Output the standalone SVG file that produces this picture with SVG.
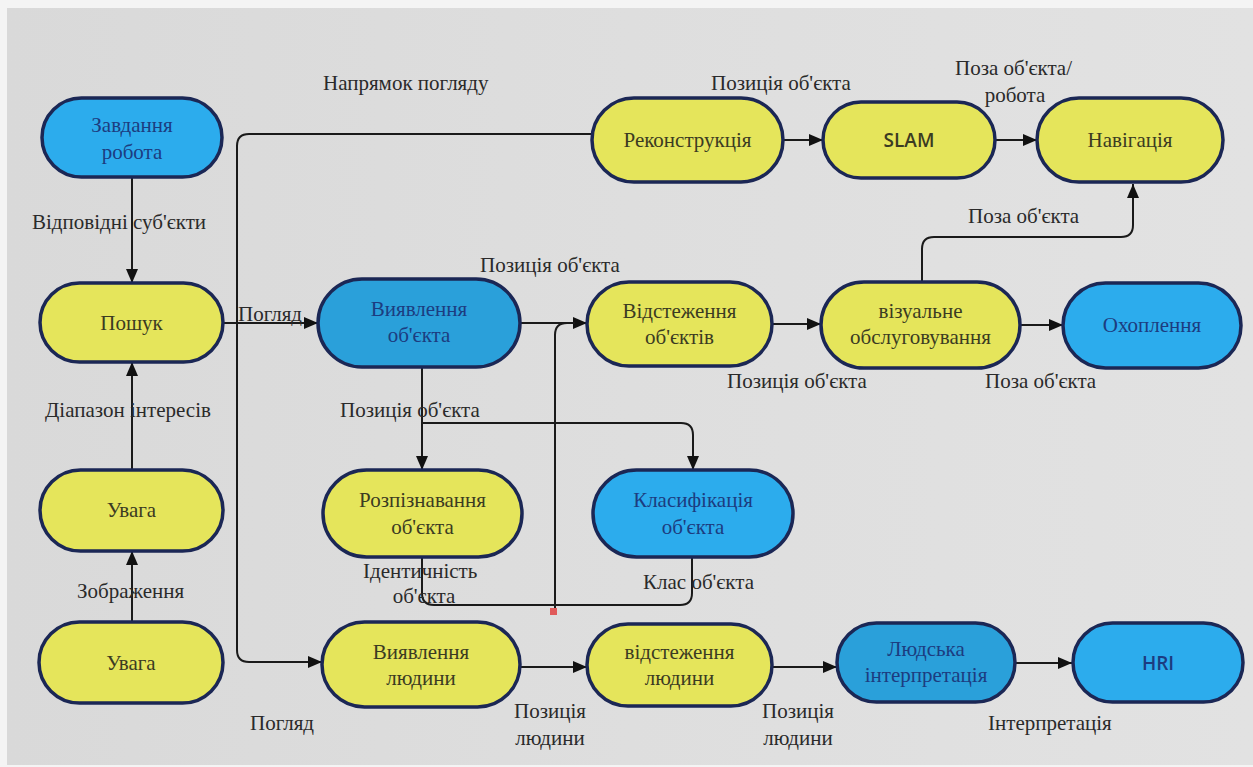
<svg xmlns="http://www.w3.org/2000/svg" width="1253" height="767" viewBox="0 0 1253 767">
<defs>
<linearGradient id="bg" x1="0" y1="0" x2="1" y2="0">
<stop offset="0" stop-color="#d9d9d9"/>
<stop offset="0.5" stop-color="#dedede"/>
<stop offset="1" stop-color="#e2e2e2"/>
</linearGradient>
<marker id="ah" markerUnits="userSpaceOnUse" markerWidth="14" markerHeight="12" refX="14" refY="6" orient="auto">
<path d="M0,0 L14,6 L0,12 z" fill="#111"/>
</marker>
<style>
.node rect{stroke:#1b2755;stroke-width:3.5}
.y rect{fill:#e5e55b}
.b rect{fill:#2caced}
.d rect{fill:#2aa0da}
.t{font-size:21px;text-anchor:middle}
.y .t{fill:#3b3b22}
.b .t,.d .t{fill:#1c3c80}
.s{font-family:'Open Sans','Noto Sans',sans-serif;font-size:19px;font-weight:600;text-anchor:middle}
.y .s{fill:#3b3b22}
.b .s{fill:#1c3c80}
.lbl{font-size:21px;fill:#2a2a2a}
#connectors path{fill:none;stroke:#1a1a1a;stroke-width:2}
.a{marker-end:url(#ah)}
</style>
</defs>
<rect width="1253" height="767" fill="#f4f4f4"/>
<rect x="7" y="8" width="1246" height="757" fill="url(#bg)"/>

<g id="connectors">
<path class="a" d="M132 177 V283"/>
<path class="a" d="M132 470 V362"/>
<path class="a" d="M132 622 V551"/>
<path class="a" d="M223 323 H318"/>
<path class="a" d="M592 134 H249 Q237 134 237 146 V650 Q237 662 249 662 H322"/>
<path class="a" d="M783 140 H823"/>
<path class="a" d="M995 140 H1037"/>
<path class="a" d="M520 323 H587"/>
<path d="M555 611 V335 Q555 323 567 323 H575"/>
<path class="a" d="M422 367 V470"/>
<path class="a" d="M422 423 H681 Q693 423 693 435 V470"/>
<path d="M422 557 V593 Q422 605 434 605 H680 Q692 605 692 593 V557"/>
<path class="a" d="M772 324 H821"/>
<path class="a" d="M1020 325 H1063"/>
<path class="a" d="M922 282 V249 Q922 237 934 237 H1121 Q1133 237 1133 225 V184"/>
<path class="a" d="M520 667 H587"/>
<path class="a" d="M772 667 H837"/>
<path class="a" d="M1015 663 H1072"/>
</g>
<rect x="550" y="608" width="7" height="7" fill="#e05a5a"/>

<g id="nodes" font-family="Liberation Serif">
<g id="n-zavdannia" class="node b"><rect x="42" y="98" width="180" height="79" rx="39.5"/><text class="t" x="132" y="132">Завдання</text><text class="t" x="132" y="159">робота</text></g>
<g id="n-poshuk" class="node y"><rect x="40" y="283" width="183" height="79" rx="39.5"/><text class="t" x="131.5" y="330">Пошук</text></g>
<g id="n-uvaga1" class="node y"><rect x="40" y="470" width="183" height="81" rx="40.5"/><text class="t" x="131.5" y="517">Увага</text></g>
<g id="n-uvaga2" class="node y"><rect x="39" y="622" width="184" height="81" rx="40.5"/><text class="t" x="131" y="670">Увага</text></g>
<g id="n-rekonstr" class="node y"><rect x="592" y="98" width="191" height="84" rx="42"/><text class="t" x="687.5" y="147">Реконструкція</text></g>
<g id="n-slam" class="node y"><rect x="823" y="102" width="172" height="76" rx="38"/><text class="s" x="909" y="147">SLAM</text></g>
<g id="n-navig" class="node y"><rect x="1037" y="98" width="186" height="84" rx="42"/><text class="t" x="1130" y="147">Навігація</text></g>
<g id="n-vyyav-obj" class="node d"><rect x="318" y="279" width="202" height="88" rx="44"/><text class="t" x="419" y="316">Виявлення</text><text class="t" x="419" y="342">об'єкта</text></g>
<g id="n-vidst-obj" class="node y"><rect x="587" y="282" width="185" height="84" rx="42"/><text class="t" x="679.5" y="318">Відстеження</text><text class="t" x="679.5" y="344">об'єктів</text></g>
<g id="n-vizual" class="node y"><rect x="821" y="282" width="199" height="86" rx="43"/><text class="t" x="920.5" y="318">візуальне</text><text class="t" x="920.5" y="344">обслуговування</text></g>
<g id="n-okhop" class="node b"><rect x="1063" y="283" width="178" height="85" rx="42.5"/><text class="t" x="1152" y="332">Охоплення</text></g>
<g id="n-rozpiz" class="node y"><rect x="323" y="470" width="199" height="87" rx="43.5"/><text class="t" x="422.5" y="507">Розпізнавання</text><text class="t" x="422.5" y="534">об'єкта</text></g>
<g id="n-klasyf" class="node b"><rect x="593" y="470" width="200" height="87" rx="43.5"/><text class="t" x="693" y="507">Класифікація</text><text class="t" x="693" y="534">об'єкта</text></g>
<g id="n-vyyav-lyud" class="node y"><rect x="322" y="622" width="198" height="85" rx="42.5"/><text class="t" x="421" y="659">Виявлення</text><text class="t" x="421" y="685">людини</text></g>
<g id="n-vidst-lyud" class="node y"><rect x="587" y="624" width="185" height="82" rx="41"/><text class="t" x="679.5" y="659">відстеження</text><text class="t" x="679.5" y="685">людини</text></g>
<g id="n-lyud-interp" class="node d"><rect x="837" y="623" width="178" height="79" rx="39.5"/><text class="t" x="926" y="656">Людська</text><text class="t" x="926" y="682">інтерпретація</text></g>
<g id="n-hri" class="node b"><rect x="1073" y="623" width="170" height="79" rx="39.5"/><text class="s" x="1158" y="670">HRI</text></g>
</g>

<g id="labels" font-family="Liberation Serif">
<text class="lbl" x="323" y="90">Напрямок погляду</text>
<text class="lbl" x="711" y="90">Позиція об'єкта</text>
<text class="lbl" x="955" y="75">Поза об'єкта/</text>
<text class="lbl" x="1015" y="102" text-anchor="middle">робота</text>
<text class="lbl" x="32" y="229">Відповідні суб'єкти</text>
<text class="lbl" x="238" y="321">Погляд</text>
<text class="lbl" x="480" y="272">Позиція об'єкта</text>
<text class="lbl" x="968" y="223">Поза об'єкта</text>
<text class="lbl" x="45" y="417">Діапазон інтересів</text>
<text class="lbl" x="340" y="417">Позиція об'єкта</text>
<text class="lbl" x="727" y="388">Позиція об'єкта</text>
<text class="lbl" x="985" y="388">Поза об'єкта</text>
<text class="lbl" x="363" y="578">Ідентичність</text>
<text class="lbl" x="424" y="603" text-anchor="middle">об'єкта</text>
<text class="lbl" x="643" y="589">Клас об'єкта</text>
<text class="lbl" x="77" y="598">Зображення</text>
<text class="lbl" x="250" y="730">Погляд</text>
<text class="lbl" x="550" y="718" text-anchor="middle">Позиція</text>
<text class="lbl" x="550" y="745" text-anchor="middle">людини</text>
<text class="lbl" x="798" y="718" text-anchor="middle">Позиція</text>
<text class="lbl" x="798" y="745" text-anchor="middle">людини</text>
<text class="lbl" x="988" y="730">Інтерпретація</text>
</g>
</svg>
